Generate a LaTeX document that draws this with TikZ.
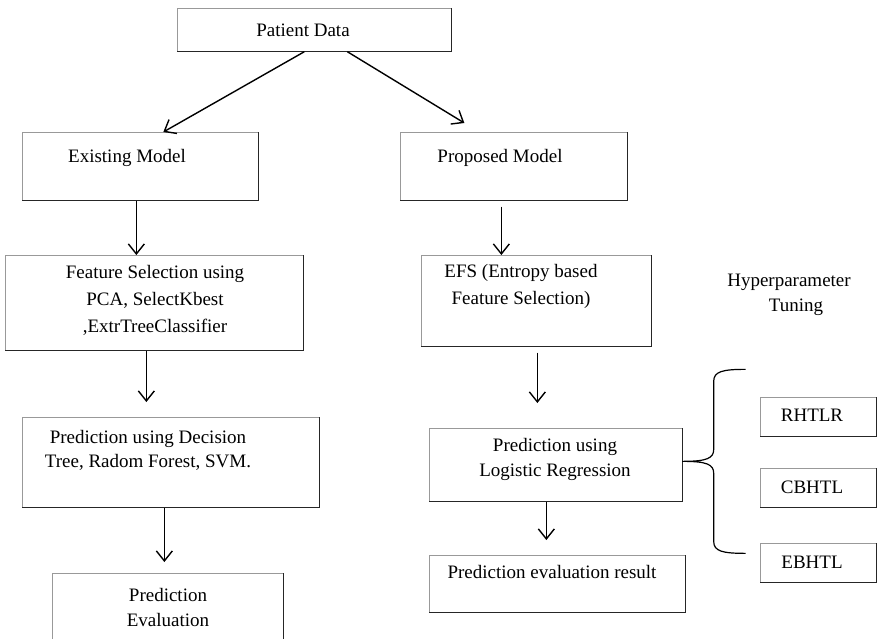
\documentclass[tikz,border=0pt]{standalone}
\usepackage{fontspec}
\setmainfont{Liberation Serif}
\usetikzlibrary{arrows.meta,calc}

\begin{document}
\begin{tikzpicture}[x=1pt,y=-1pt,
  box/.style={draw=black!40, line width=0.7pt, inner sep=0pt, anchor=north west},
  txt/.style={inner sep=0pt, align=center, font=\fontsize{19}{25}\selectfont},
  wide/.style={font=\fontsize{19}{27}\selectfont},
  arr/.style={line width=1.4pt, -{Straight Barb[length=10pt,width=16pt,line width=1.4pt]}},
  darkedge/.style={draw=black!85, line width=1.1pt},
  bracepath/.style={line width=1.2pt, line join=round}]

\useasboundingbox[fill=white] (0,0) rectangle (877,638);

% boxes
\node[box, minimum width=274pt, minimum height=43pt] (pd)  at (177,8)   {};
\node[box, minimum width=236pt, minimum height=68pt] (em)  at (22,132)  {};
\node[box, minimum width=227pt, minimum height=68pt] (pm)  at (400,132) {};
\node[box, minimum width=298pt, minimum height=95pt] (fs)  at (5,255)   {};
\node[box, minimum width=230pt, minimum height=91pt] (efs) at (421,255) {};
\node[box, minimum width=297pt, minimum height=90pt] (dt)  at (22,417)  {};
\node[inner sep=0pt, anchor=north west, minimum width=231pt, minimum height=70pt] (ev) at (52,573) {};
\node[box, minimum width=253pt, minimum height=73pt] (lr)  at (429,428) {};
\node[box, minimum width=256pt, minimum height=57pt] (res) at (429,555) {};
\node[box, minimum width=116pt, minimum height=39pt] (rh)  at (760,397) {};
\node[box, minimum width=116pt, minimum height=39pt] (cb)  at (760,468) {};
\node[box, minimum width=116pt, minimum height=39pt] (eb)  at (760,543) {};

% darker right and bottom edges
\foreach \n in {pd,em,pm,fs,efs,dt,lr,res,rh,cb,eb}
  \draw[darkedge] (\n.north east) -- (\n.south east) -- (\n.south west);
\draw[draw=black!40, line width=0.7pt] (ev.south west) -- (ev.north west) -- (ev.north east);
\draw[darkedge] (ev.north east) -- (ev.south east);

% texts
\node[txt] (pdt)  at (303,30)    {Patient Data};
\node[txt] (emt)  at (127,158)   {Existing Model};
\node[txt] (pmt)  at (500,158)   {Proposed Model};
\node[txt, wide] (fst)  at (155,300) {Feature Selection using\\PCA, SelectKbest\\,ExtrTreeClassifier};
\node[txt, wide] (efst) at (521,286.5) {EFS (Entropy based\\Feature Selection)};
\node[txt, font=\fontsize{19}{24}\selectfont] (dtt) at (148,450) {Prediction using Decision\\Tree, Radom Forest, SVM.};
\node[txt] (evt)  at (168,607.5) {Prediction\\Evaluation};
\node[txt] (lrt)  at (555,459.5) {Prediction using\\Logistic Regression};
\node[txt] (rest) at (552,572)   {Prediction evaluation result};
\node[txt] (hp1)  at (789,282)   {Hyperparameter};
\node[txt] (hp2)  at (796,307)   {Tuning};
\node[txt] (rht)  at (812,415)   {RHTLR};
\node[txt] (cbt)  at (812,487)   {CBHTL};
\node[txt] (ebt)  at (812,562)   {EBHTL};

% arrows
\draw[arr] ($(pd.south)+(-10,0)$) -- ($(em.north)+(23,0)$);
\draw[arr] ($(pd.south)+(33,0)$) -- ($(pm.north)+(-49.5,-9)$);
\draw[arr] ($(em.south)+(-4,0)$) -- ($(em.south |- fs.north)+(-4,0)$);
\draw[arr] ($(pm.south)+(-12.5,6)$) -- ($(pm.south |- efs.north)+(-12.5,0)$);
\draw[arr] ($(fs.south)+(-8,0)$) -- ($(fs.south |- dt.north)+(-8,-15)$);
\draw[arr] ($(efs.south)+(1,6)$) -- ($(efs.south |- lr.north)+(1,-25)$);
\draw[arr] ($(dt.south)+(-6.5,0)$) -- ($(dt.south |- ev.north)+(-6.5,-11)$);
\draw[arr] ($(lr.south)+(-9.5,0)$) -- ($(lr.south |- res.north)+(-9.5,-15)$);

% curly brace grouping the tuning methods
\coordinate (tip) at ($(lr.east)+(0,-3.5)$);
\draw[bracepath]
  ($(tip)+(63,-92)$) .. controls ($(tip)+(40,-92)$) and ($(tip)+(31,-90)$) .. ($(tip)+(31,-80)$)
  -- ($(tip)+(31,-12)$) .. controls ($(tip)+(31,-3)$) and ($(tip)+(24,0)$) .. (tip)
  .. controls ($(tip)+(24,0)$) and ($(tip)+(31,3)$) .. ($(tip)+(31,12)$)
  -- ($(tip)+(31,80)$) .. controls ($(tip)+(31,90)$) and ($(tip)+(40,92)$) .. ($(tip)+(63,92)$);

\end{tikzpicture}
\end{document}
